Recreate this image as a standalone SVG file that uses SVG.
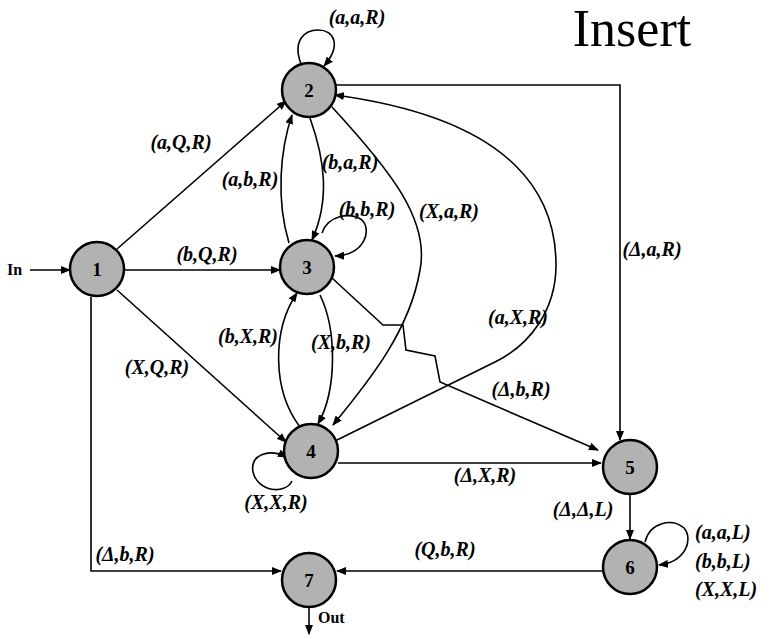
<svg xmlns="http://www.w3.org/2000/svg" width="774" height="639" viewBox="0 0 774 639">
<style>
.node circle{fill:#b2b2b2;stroke:#000;stroke-width:2.5}
.node text{font-family:"Liberation Serif",serif;font-weight:bold;font-size:19px;text-anchor:middle}
.edges path{fill:none;stroke:#000;stroke-width:1.6}
.lbl{font-family:"Liberation Serif",serif;font-style:italic;font-weight:bold;font-size:20px;text-anchor:middle}
.lbs{font-family:"Liberation Serif",serif;font-style:italic;font-weight:bold;font-size:20px;text-anchor:start}
.plain{font-family:"Liberation Serif",serif;font-weight:bold;font-size:16px}
</style>
<defs>
<marker id="ah" markerUnits="userSpaceOnUse" markerWidth="10" markerHeight="8" refX="9" refY="4" orient="auto">
<path d="M0,0 L10,4 L0,8 z" fill="#000"/>
</marker>
</defs>
<g class="edges" marker-end="url(#ah)">
<path d="M30,270 L70,270"/>
<path d="M117,249 L286,101"/>
<path d="M124,270 L280,270"/>
<path d="M117,290 L286,442"/>
<path d="M91,297 L91,571 L281,571"/>
<path d="M301,64 C292,40 305,30 318,30 C334,30 342,45 324,66"/>
<path d="M289,243 C276,200 280,150 292,115"/>
<path d="M310,118 C325,160 330,200 312,240"/>
<path d="M322,233 C328,215 350,212 362,220 C372,230 365,255 335,256"/>
<path d="M332,107 C390,170 430,220 420,270 C410,330 370,380 333,425"/>
<path d="M320,295 C337,330 337,390 318,424"/>
<path d="M300,427 C272,390 272,330 297,293"/>
<path d="M292,481 C285,495 258,492 253,472 C250,455 268,448 287,457"/>
<path d="M337,440 L495,362 C530,345 556,310 556,265 C556,200 520,120 335,95"/>
<path d="M335,85 L620,85 L620,440"/>
<path d="M332,278 L383,325 L403,325 L406,350 L435,356 L440,382 L598,450"/>
<path d="M338,463 L601,463"/>
<path d="M630,494 L630,539"/>
<path d="M645,542 C650,522 672,518 684,528 C694,540 685,562 659,565"/>
<path d="M603,571 L337,571"/>
<path d="M309,607 L309,634"/>
</g>
<g id="n1" class="node"><circle cx="97" cy="269" r="27"/><text x="97" y="276">1</text></g>
<g id="n2" class="node"><circle cx="309" cy="90" r="27"/><text x="309" y="97">2</text></g>
<g id="n3" class="node"><circle cx="307" cy="267" r="27"/><text x="307" y="274">3</text></g>
<g id="n4" class="node"><circle cx="311" cy="451" r="27"/><text x="311" y="458">4</text></g>
<g id="n5" class="node"><circle cx="630" cy="467" r="27"/><text x="630" y="474">5</text></g>
<g id="n6" class="node"><circle cx="630" cy="567" r="27"/><text x="630" y="574">6</text></g>
<g id="n7" class="node"><circle cx="309" cy="580" r="27"/><text x="309" y="587">7</text></g>
<g id="labels">
<text class="lbl" x="357" y="24">(a,a,R)</text>
<text class="lbl" x="181" y="149">(a,Q,R)</text>
<text class="lbl" x="350" y="169">(b,a,R)</text>
<text class="lbl" x="250" y="186">(a,b,R)</text>
<text class="lbl" x="367" y="216">(b,b,R)</text>
<text class="lbl" x="449" y="218">(X,a,R)</text>
<text class="lbl" x="207" y="261">(b,Q,R)</text>
<text class="lbl" x="652" y="256">(Δ,a,R)</text>
<text class="lbl" x="518" y="324">(a,X,R)</text>
<text class="lbl" x="248" y="343">(b,X,R)</text>
<text class="lbl" x="341" y="349">(X,b,R)</text>
<text class="lbl" x="157" y="374">(X,Q,R)</text>
<text class="lbl" x="521" y="396">(Δ,b,R)</text>
<text class="lbl" x="485" y="482">(Δ,X,R)</text>
<text class="lbl" x="276" y="509">(X,X,R)</text>
<text class="lbl" x="583" y="516">(Δ,Δ,L)</text>
<text class="lbl" x="125" y="561">(Δ,b,R)</text>
<text class="lbl" x="445" y="556">(Q,b,R)</text>
<text class="lbs" x="695" y="539">(a,a,L)</text>
<text class="lbs" x="695" y="568">(b,b,L)</text>
<text class="lbs" x="695" y="596">(X,X,L)</text>
<text class="plain" x="7" y="275">In</text>
<text class="plain" x="318" y="623">Out</text>
<text x="632" y="46" font-family="Liberation Serif, serif" font-size="52" text-anchor="middle">Insert</text>
</g>
</svg>
